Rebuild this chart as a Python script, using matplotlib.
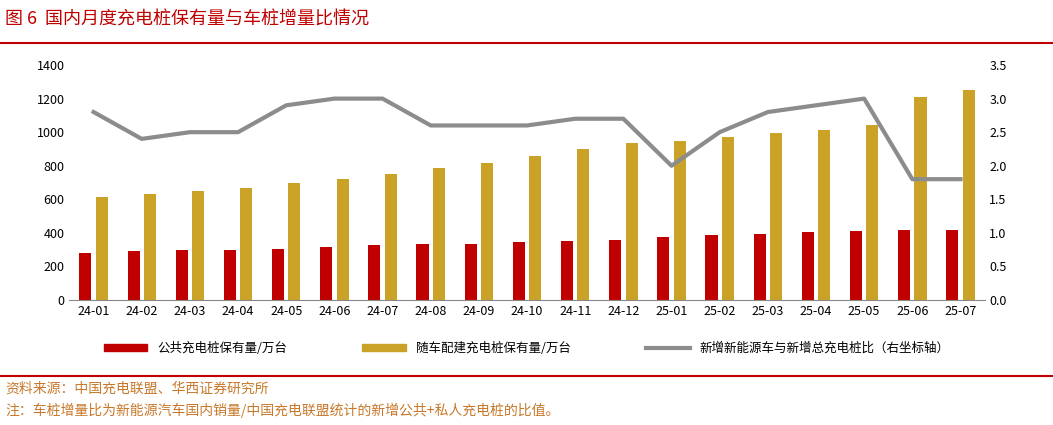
import matplotlib
matplotlib.use('Agg')
import matplotlib.pyplot as plt
import numpy as np
from matplotlib.lines import Line2D

plt.rcParams['font.family'] = ['Noto Sans CJK SC', 'DejaVu Sans']

months = ['24-01', '24-02', '24-03', '24-04', '24-05', '24-06', '24-07', '24-08', '24-09', '24-10',
          '24-11', '24-12', '25-01', '25-02', '25-03', '25-04', '25-05', '25-06', '25-07']
public = [280, 290, 297, 300, 305, 315, 325, 333, 336, 343, 350, 358, 375, 385, 395, 405, 413, 415, 420]
private = [613, 632, 652, 668, 695, 722, 748, 784, 818, 856, 900, 935, 950, 970, 998, 1013, 1040, 1210, 1252]
ratio = [2.8, 2.4, 2.5, 2.5, 2.9, 3.0, 3.0, 2.6, 2.6, 2.6, 2.7, 2.7, 2.0, 2.5, 2.8, 2.9, 3.0, 1.8, 1.8]

red = '#C00000'
gold = '#C9A227'
grey = '#8C8C8C'

fig = plt.figure(figsize=(10.53, 4.25), dpi=100)
ax = fig.add_axes([0.066, 0.294, 0.869, 0.553])
x = np.arange(len(months))
w = 0.25
ax.bar(x - 0.17, public, w, color=red)
ax.bar(x + 0.17, private, w, color=gold)
ax.set_ylim(0, 1400)
ax.set_yticks(range(0, 1401, 200))
ax.set_xlim(-0.5, len(months) - 0.5)
ax.set_xticks(x)
ax.set_xticklabels(months)
ax.tick_params(labelsize=9, length=0)
for s in ['top', 'right', 'left']:
    ax.spines[s].set_visible(False)
ax.spines['bottom'].set_color('#888888')

ax2 = ax.twinx()
ax2.plot(x, ratio, color=grey, lw=3)
ax2.set_ylim(0, 3.5)
ax2.set_yticks(np.arange(0, 3.51, 0.5))
ax2.set_yticklabels([f'{v:.1f}' for v in np.arange(0, 3.51, 0.5)])
ax2.tick_params(labelsize=9, length=0)
for s in ['top', 'right', 'left', 'bottom']:
    ax2.spines[s].set_visible(False)

handles = [plt.Rectangle((0, 0), 1, 1, color=red), plt.Rectangle((0, 0), 1, 1, color=gold),
           Line2D([], [], color=grey, lw=3)]
labels = ['公共充电桩保有量/万台', '随车配建充电桩保有量/万台', '新增新能源车与新增总充电桩比（右坐标轴）']
fig.legend(handles, labels, loc='center', bbox_to_anchor=(0.5, 0.18), ncol=3, frameon=False,
           fontsize=9, handlelength=3.5, handleheight=0.5, columnspacing=6)

fig.text(0.005, 0.955, '图 6  国内月度充电桩保有量与车桩增量比情况', color=red, fontsize=13, va='center')
fig.add_artist(Line2D([0, 1], [0.9, 0.9], color=red, lw=1.5, transform=fig.transFigure))
fig.add_artist(Line2D([0, 1], [0.115, 0.115], color=red, lw=1.5, transform=fig.transFigure))
fig.text(0.005, 0.085, '资料来源：中国充电联盟、华西证券研究所', color='#C8782A', fontsize=10, va='center')
fig.text(0.005, 0.035, '注：车桩增量比为新能源汽车国内销量/中国充电联盟统计的新增公共+私人充电桩的比值。',
         color='#C8782A', fontsize=10, va='center')

fig.savefig('out.png', dpi=100)
